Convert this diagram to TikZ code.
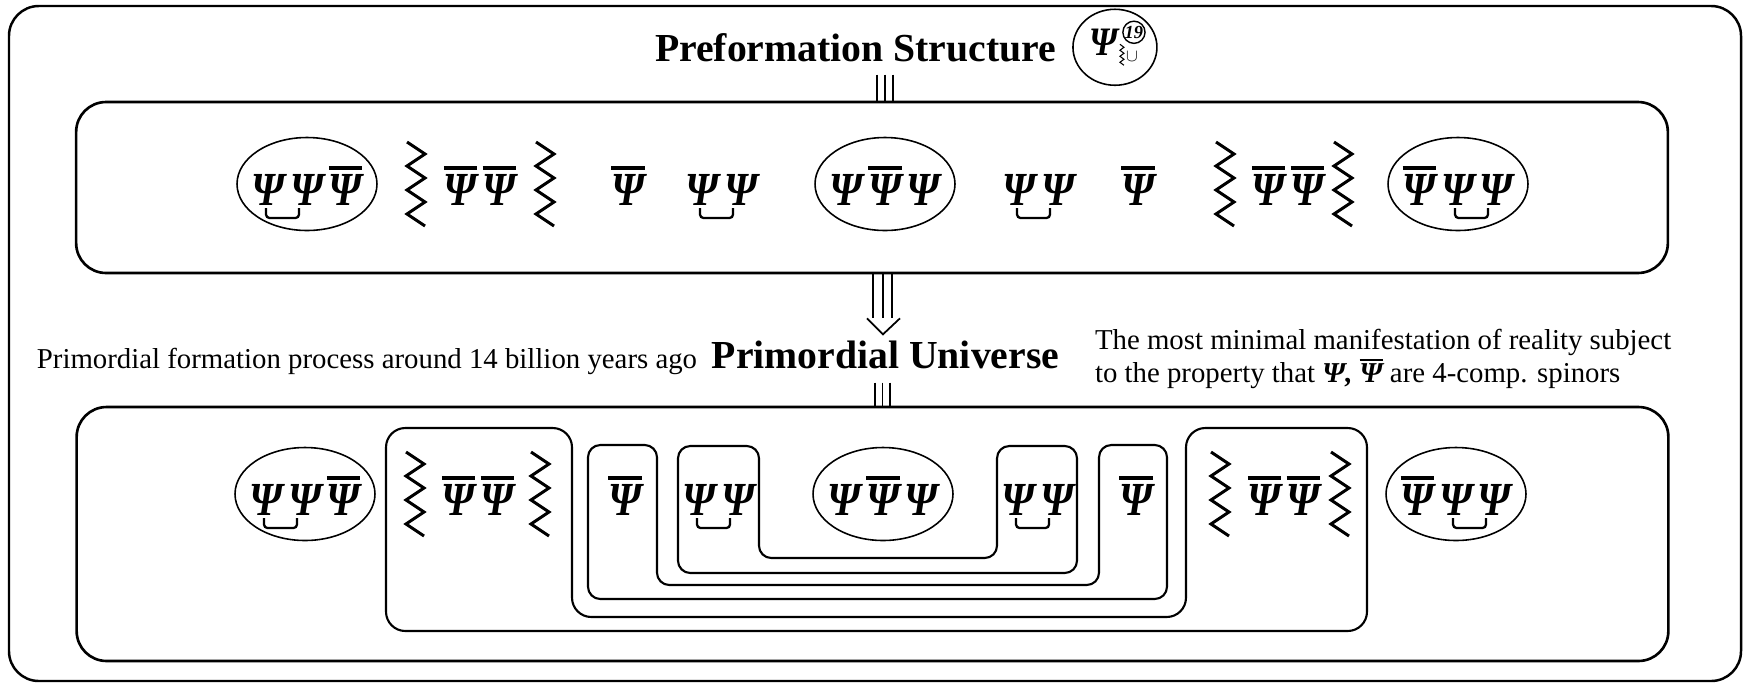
\documentclass[tikz,border=0pt]{standalone}
\usepackage{fontspec}
\setmainfont{Liberation Serif}
\newfontfamily\psifam{Liberation Serif}[FakeStretch=0.88]
\usetikzlibrary{positioning,shapes.geometric,calc}

\newcommand\psisize{\fontsize{27}{28}\selectfont}
\newcommand\sPsi{{\psifam\bfseries\itshape Ψ}}
\newcommand\sPsibar{\vbox{\hrule height 2.4pt\kern 2.2pt\hbox{\sPsi}}}
\newcommand\tPsibar{\vbox{\hrule height 1.3pt\kern 1.1pt\hbox{\bfseries\itshape Ψ}}}
\newcommand\gp{\kern3pt}

\begin{document}
\begin{tikzpicture}[
  x=0.02cm, y=-0.02cm,
  frame/.style={draw, line width=1.4pt, rounded corners=17pt},
  panel/.style={draw, line width=1.5pt, rounded corners=17pt, minimum width=31.84cm},
  grp/.style={draw, ellipse, line width=0.9pt, inner sep=0pt, minimum width=2.8cm, minimum height=1.86cm},
  emblem/.style={draw, ellipse, line width=0.9pt, inner sep=0pt, minimum width=1.68cm, minimum height=1.52cm},
  psi/.style={inner sep=0pt, font=\psisize},
  link/.style={line width=1.3pt, rounded corners=2pt},
  wall/.style={draw, line width=1.2pt, rounded corners=7pt},
  tri/.style={line width=1pt},
  ttl/.style={font=\bfseries\fontsize{22.6}{26}\selectfont, inner sep=0pt},
  txt/.style={font=\fontsize{16.4}{18.5}\selectfont, inner sep=0pt, align=left},
  zz/.pic={\draw[line width=1.7pt, line join=miter] (-9,-42) -- (9,-30) -- (-9,-18) -- (9,-6) -- (-9,6) -- (9,18) -- (-9,30) -- (9,42);}
]
\useasboundingbox (0,0) rectangle (1744,684);
\draw[frame] (9,6) rectangle (1741,681);

% headings
\node[ttl, anchor=base] (pre) at (855.5,61) {Preformation Structure};
\node[emblem, right=9pt of pre] (emb) {};
\node[inner sep=0pt, font=\psifam\bfseries\itshape\fontsize{23}{23}\selectfont, anchor=base] (embpsi) at ($(emb)+(-11,8)$) {Ψ};
\node[draw, circle, line width=0.8pt, inner sep=0pt, minimum size=0.42cm, font=\bfseries\itshape\fontsize{10.5}{10.5}\selectfont] (emb19) at ($(emb)+(19,-15)$) {19};
\draw[line width=0.6pt] ($(emb)+(5,-3)$) -- ++(4,3) -- ++(-4,3) -- ++(4,3) -- ++(-4,3) -- ++(4,3) -- ++(-4,3) -- ++(4,3);
\node[inner sep=0pt, font=\fontsize{10}{10}\selectfont] (embcup) at ($(emb)+(17,9)$) {$\cup$};

\node[panel, minimum height=3.42cm] (top) at (872,187.5) {};
\node[panel, minimum height=5.08cm] (bot) at (872.5,534) {};

\node[ttl, anchor=base] (uni) at (885.5,368) {Primordial Universe};
\node[txt, base left=8pt of uni] (proc) {Primordial formation process around 14 billion years ago};
\node[txt, right=20pt of uni, yshift=-2.5pt] (note) {The most minimal manifestation of reality subject\\to the property that \textbf{\textit{Ψ,}} \tPsibar{} are 4-comp. spinors};

% triple lines
\foreach \dx in {5,13,21}
  \draw[tri] ($(top.north)+(\dx,-26)$) -- ($(top.north)+(\dx,0)$);
\foreach \dx in {1,11,20}
  \draw[tri] ($(top.south)+(\dx,0)$) -- ($(top.south)+(\dx,44)$);
\draw[tri] ($(top.south)+(-5,44)$) -- ($(top.south)+(11,60)$) -- ($(top.south)+(28,44)$);
\foreach \dx in {2.5,10,17.5}
  \draw[tri] ($(bot.north)+(\dx,-23)$) -- ($(bot.north)+(\dx,0)$);

% upper row
\node[grp] (e1) at (307,184) {};
\node[psi, anchor=base] (t1) at ($(e1)+(0,21)$) {\sPsi\gp\sPsi\gp\sPsibar};
\draw[link] ($(t1.base)+(-41,3)$) -- ++(0,10) -- ++(33,0) -- ++(0,-10);
\pic at (416,184) {zz};
\node[psi, anchor=base] (u1) at (480,205) {\sPsibar\gp\sPsibar};
\pic at (545,184) {zz};
\node[psi, anchor=base] (u2) at (628,205) {\sPsibar};
\node[psi, anchor=base] (u3) at (722,205) {\sPsi\gp\sPsi};
\draw[link] ($(u3.base)+(-22,3)$) -- ++(0,10) -- ++(33,0) -- ++(0,-10);
\node[grp] (e2) at (885,184) {};
\node[psi, anchor=base] (t2) at ($(e2)+(0,21)$) {\sPsi\gp\sPsibar\gp\sPsi};
\node[psi, anchor=base] (u4) at (1039,205) {\sPsi\gp\sPsi};
\draw[link] ($(u4.base)+(-22,3)$) -- ++(0,10) -- ++(33,0) -- ++(0,-10);
\node[psi, anchor=base] (u5) at (1138,205) {\sPsibar};
\pic at (1225,184) {zz};
\node[psi, anchor=base] (u6) at (1288,205) {\sPsibar\gp\sPsibar};
\pic at (1343,184) {zz};
\node[grp] (e3) at (1458,184) {};
\node[psi, anchor=base] (t3) at ($(e3)+(0,21)$) {\sPsibar\gp\sPsi\gp\sPsi};
\draw[link] ($(t3.base)+(-3,3)$) -- ++(0,10) -- ++(33,0) -- ++(0,-10);

% lower row
\node[grp] (e4) at (305,494) {};
\node[psi, anchor=base] (t4) at ($(e4)+(0,21)$) {\sPsi\gp\sPsi\gp\sPsibar};
\draw[link] ($(t4.base)+(-41,3)$) -- ++(0,10) -- ++(33,0) -- ++(0,-10);
\pic at (415,494) {zz};
\node[psi, anchor=base] (l1) at (478,515) {\sPsibar\gp\sPsibar};
\pic at (540,494) {zz};
\node[psi, anchor=base] (l2) at (625,515) {\sPsibar};
\node[psi, anchor=base] (l3) at (719,515) {\sPsi\gp\sPsi};
\draw[link] ($(l3.base)+(-22,3)$) -- ++(0,10) -- ++(33,0) -- ++(0,-10);
\node[grp] (e5) at (883,494) {};
\node[psi, anchor=base] (t5) at ($(e5)+(0,21)$) {\sPsi\gp\sPsibar\gp\sPsi};
\node[psi, anchor=base] (l4) at (1038,515) {\sPsi\gp\sPsi};
\draw[link] ($(l4.base)+(-22,3)$) -- ++(0,10) -- ++(33,0) -- ++(0,-10);
\node[psi, anchor=base] (l5) at (1136,515) {\sPsibar};
\pic at (1220,494) {zz};
\node[psi, anchor=base] (l6) at (1284,515) {\sPsibar\gp\sPsibar};
\pic at (1340,494) {zz};
\node[grp] (e6) at (1456,494) {};
\node[psi, anchor=base] (t6) at ($(e6)+(0,21)$) {\sPsibar\gp\sPsi\gp\sPsi};
\draw[link] ($(t6.base)+(-3,3)$) -- ++(0,10) -- ++(33,0) -- ++(0,-10);

% nested pairings
\draw[wall] (718,446) -- (759,446) -- (759,558) -- (997,558) -- (997,446) -- (1077,446) -- (1077,573) -- (678,573) -- (678,446) -- cycle;
\draw[wall] (622,445) -- (657,445) -- (657,585) -- (1099,585) -- (1099,445) -- (1167,445) -- (1167,599) -- (588,599) -- (588,445) -- cycle;
\draw[wall, rounded corners=11pt] (479,428) -- (572,428) -- (572,617) -- (1186,617) -- (1186,428) -- (1367,428) -- (1367,631) -- (386,631) -- (386,428) -- cycle;
\end{tikzpicture}
\end{document}
